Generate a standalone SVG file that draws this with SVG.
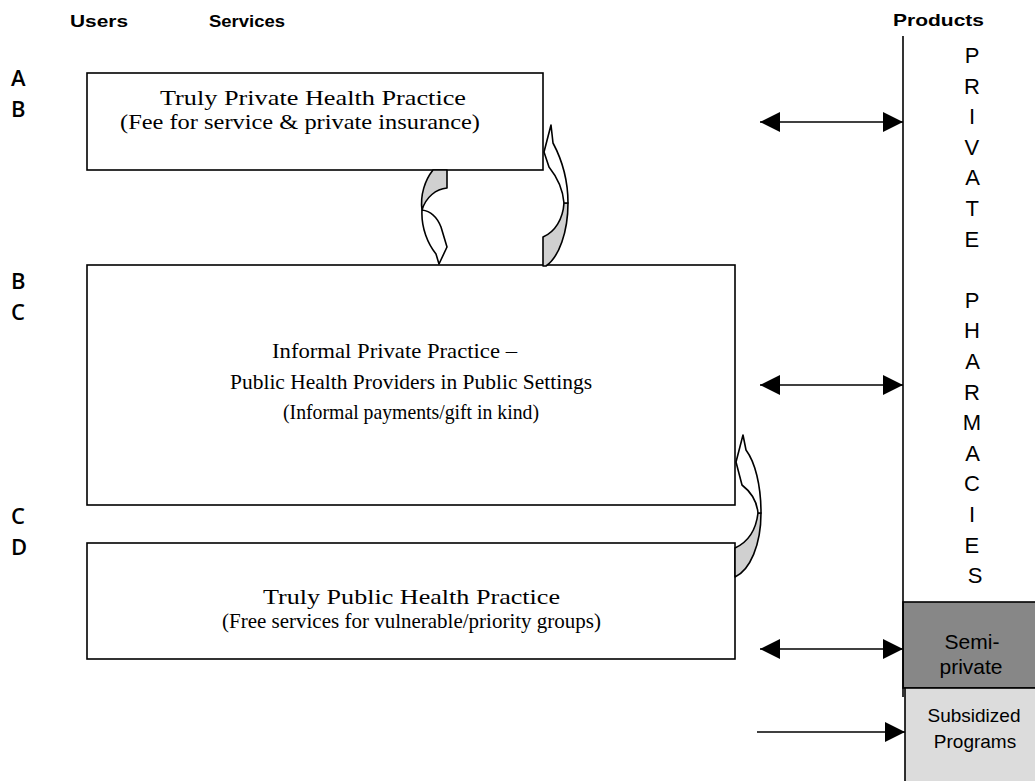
<svg xmlns="http://www.w3.org/2000/svg" width="1035" height="781" viewBox="0 0 1035 781">
<style>
.box{fill:#fff;stroke:#000;stroke-width:1.6}
.hdr{font-family:"Liberation Sans",Arial,sans-serif;font-weight:bold;font-size:17px;fill:#000}
.lt{font-family:"Open Sans","Noto Sans",sans-serif;font-size:22px;font-weight:600;fill:#000}
.bt{font-family:"Liberation Serif","Times New Roman",serif;font-size:22px;fill:#000}
.vt{font-family:"Liberation Sans",Arial,sans-serif;font-size:22px;fill:#000;text-anchor:middle}
.pt{font-family:"Liberation Sans",Arial,sans-serif;font-size:21px;fill:#000;text-anchor:middle}
.sh{fill:#d0d0d0;stroke:#000;stroke-width:1.6;stroke-linejoin:round}
.wh{fill:#fff;stroke:#000;stroke-width:1.6;stroke-linejoin:round}
.ln{stroke:#000;stroke-width:1.6;fill:none}
</style>
<defs>
<marker id="ah" viewBox="0 0 20 20" refX="20" refY="10" markerWidth="20" markerHeight="20" markerUnits="userSpaceOnUse" orient="auto-start-reverse">
<path d="M0,0 L20,10 L0,20 Z" fill="#000"/>
</marker>
</defs>

<g id="headers">
<text class="hdr" x="70" y="27" textLength="58" lengthAdjust="spacingAndGlyphs">Users</text>
<text class="hdr" x="209" y="27" textLength="76" lengthAdjust="spacingAndGlyphs">Services</text>
<text class="hdr" x="893" y="26" textLength="91" lengthAdjust="spacingAndGlyphs">Products</text>
</g>

<g id="user-letters">
<text class="lt" x="11" y="86">A</text>
<text class="lt" x="11" y="117">B</text>
<text class="lt" x="11" y="289">B</text>
<text class="lt" x="11" y="320">C</text>
<text class="lt" x="11" y="524">C</text>
<text class="lt" x="11" y="555">D</text>
</g>

<g id="truly-private">
<rect class="box" x="87" y="73" width="456" height="97"/>
<text class="bt" x="160" y="105" textLength="306" lengthAdjust="spacingAndGlyphs">Truly Private Health Practice</text>
<text class="bt" x="120" y="129" textLength="360" lengthAdjust="spacingAndGlyphs">(Fee for service &amp; private insurance)</text>
</g>

<g id="informal-private">
<rect class="box" x="87" y="265" width="648" height="240"/>
<text class="bt" x="272" y="358" textLength="245" lengthAdjust="spacingAndGlyphs">Informal Private Practice –</text>
<text class="bt" x="230" y="389" textLength="362" lengthAdjust="spacingAndGlyphs">Public Health Providers in Public Settings</text>
<text class="bt" x="283" y="419" textLength="256" lengthAdjust="spacingAndGlyphs">(Informal payments/gift in kind)</text>
</g>

<g id="truly-public">
<rect class="box" x="87" y="543" width="648" height="116"/>
<text class="bt" x="263" y="604" textLength="297" lengthAdjust="spacingAndGlyphs">Truly Public Health Practice</text>
<text class="bt" x="222" y="628" textLength="379" lengthAdjust="spacingAndGlyphs">(Free services for vulnerable/priority groups)</text>
</g>

<g id="products">
<rect x="903" y="602" width="134" height="86" fill="#878787" stroke="#000" stroke-width="1.6"/>
<rect x="905" y="688" width="132" height="95" fill="#dcdcdc" stroke="#000" stroke-width="1.6"/>
<line class="ln" x1="903" y1="36" x2="903" y2="697"/>
<text class="vt">
<tspan x="975" y="63">P</tspan>
<tspan x="975" y="93.6">R</tspan>
<tspan x="975" y="124.2">I</tspan>
<tspan x="975" y="154.8">V</tspan>
<tspan x="975" y="185.4">A</tspan>
<tspan x="975" y="216">T</tspan>
<tspan x="975" y="246.6">E</tspan>
<tspan x="975" y="307.8">P</tspan>
<tspan x="975" y="338.4">H</tspan>
<tspan x="975" y="369">A</tspan>
<tspan x="975" y="399.6">R</tspan>
<tspan x="975" y="430.2">M</tspan>
<tspan x="975" y="460.8">A</tspan>
<tspan x="975" y="491.4">C</tspan>
<tspan x="975" y="522">I</tspan>
<tspan x="975" y="552.6">E</tspan>
<tspan x="975" y="583.2">S</tspan>
</text>
<text class="pt" x="972" y="649">Semi-</text>
<text class="pt" x="971" y="674">private</text>
<text class="pt" x="974" y="722" style="font-size:19px">Subsidized</text>
<text class="pt" x="975" y="748" style="font-size:19px">Programs</text>
</g>

<g id="connectors">
<line class="ln" x1="760" y1="122" x2="903" y2="122" marker-start="url(#ah)" marker-end="url(#ah)"/>
<line class="ln" x1="760" y1="385" x2="903" y2="385" marker-start="url(#ah)" marker-end="url(#ah)"/>
<line class="ln" x1="760" y1="649" x2="903" y2="649" marker-start="url(#ah)" marker-end="url(#ah)"/>
<line class="ln" x1="757" y1="732" x2="905" y2="732" marker-end="url(#ah)"/>

<path class="sh" d="M433,170 L447,170 L447,188 C436,189 426,197 422,210 C420,195 425,180 433,170 Z"/>
<path class="wh" d="M422,210 C421,228 428,244 436,254 L439,264 L447,247 L441,227 C437,217 430,211 422,210 Z"/>

<path class="sh" d="M543,266 L543,237 C555,232 563,219 564,203 L568,203 C568,232 559,257 546,266 Z"/>
<path class="wh" d="M568,203 C568,178 561,158 553,143 L551,125 L544,152 L549,167 C557,177 563,190 564,203 Z"/>

<path class="sh" d="M735,577 L735,548 C748,542 756,530 758,513 L761,513 C761,545 750,570 735,577 Z"/>
<path class="wh" d="M761,513 C761,485 755,462 746,450 L743,435 L736,462 L742,485 C751,492 757,502 758,513 Z"/>
</g>
</svg>
